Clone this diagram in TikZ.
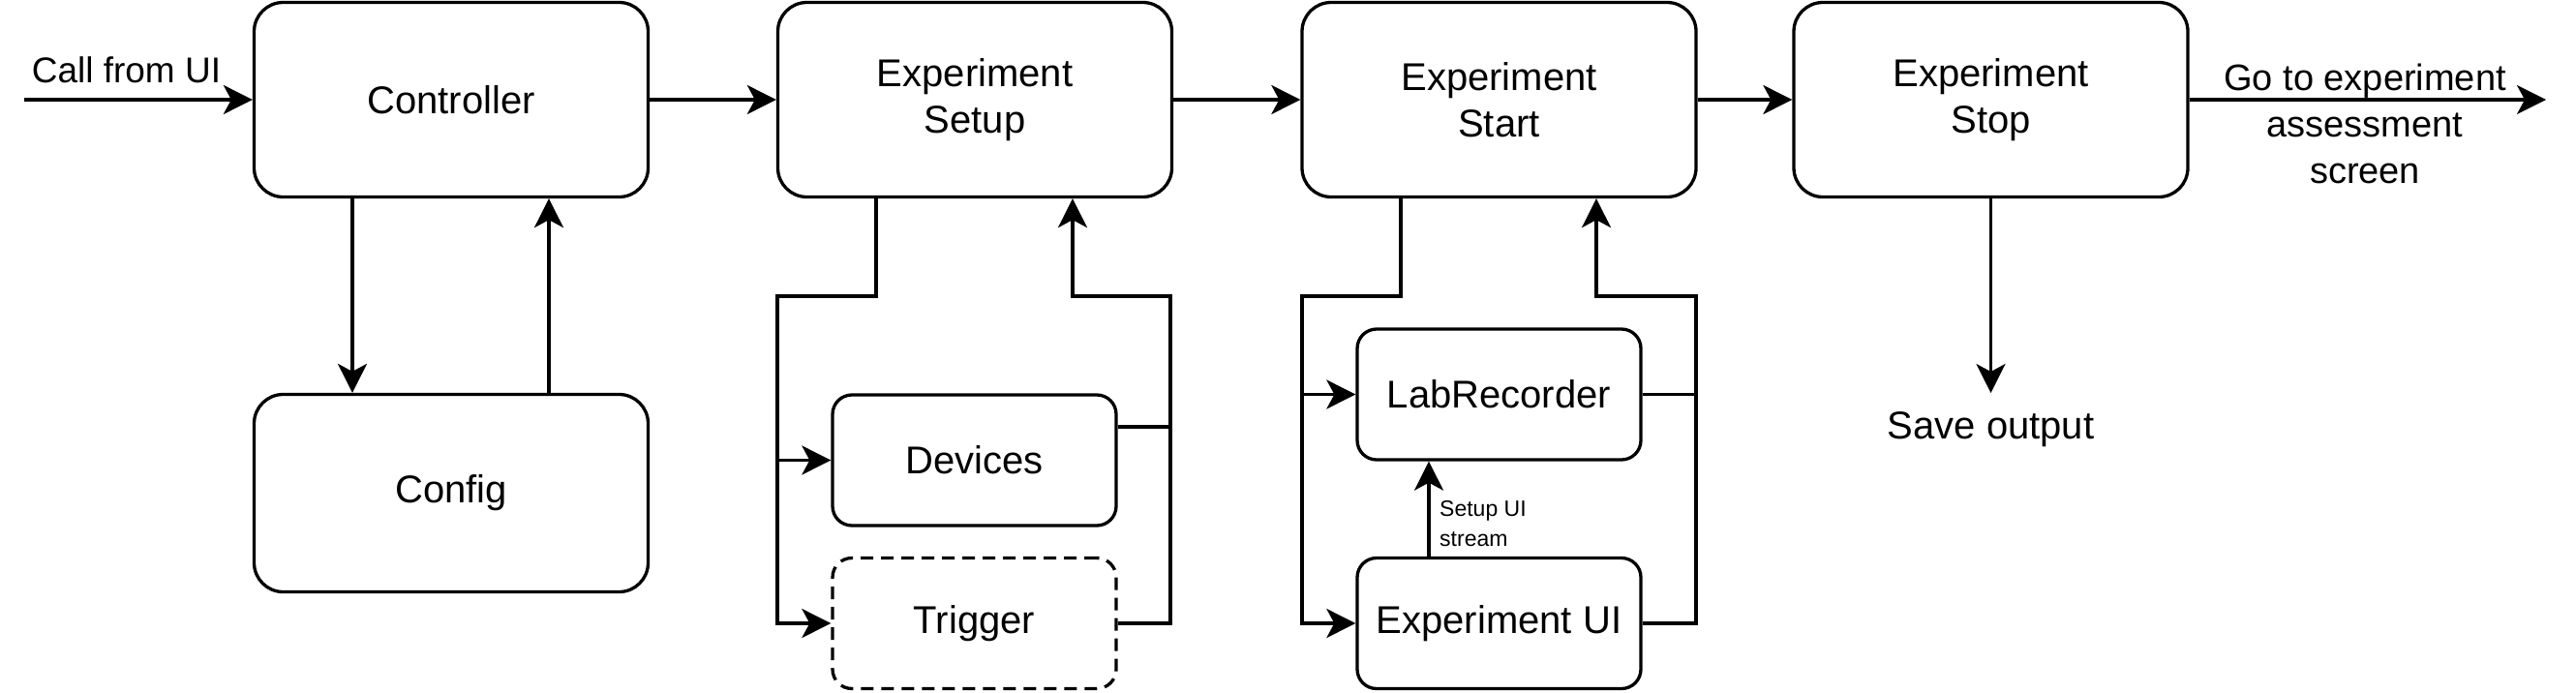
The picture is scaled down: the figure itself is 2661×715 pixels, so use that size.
\documentclass[tikz,border=0pt]{standalone}
\usepackage{fontspec}
\setmainfont{Liberation Sans}
\usetikzlibrary{arrows.meta}
\begin{document}
\begin{tikzpicture}[x=1pt,y=-1pt,
  conn/.style={line width=3.3pt},
  arr/.style={conn, -{Stealth[length=30pt,width=30pt,inset=8pt]}},
  box/.style={draw, line width=3.3pt, rounded corners=30pt, minimum width=407pt, minimum height=201pt, inner sep=0pt, align=center, font=\fontsize{40}{48}\selectfont},
  sbox/.style={draw, line width=3.3pt, rounded corners=20pt, minimum width=293pt, minimum height=135pt, inner sep=0pt, align=center, font=\fontsize{40}{48}\selectfont},
  dashedbox/.style={dash pattern=on 13pt off 8pt},
  lbl/.style={inner sep=0pt, font=\fontsize{40}{48}\selectfont},
  smalllbl/.style={inner sep=0pt, font=\fontsize{23}{31}\selectfont}]
\useasboundingbox (0,0) rectangle (2661,715);
% main boxes
\node[box] (ctrl) at (466,103) {Controller};
\node[box, minimum height=204pt] (config) at (466,509.5) {Config};
\node[box] (setup) at (1007,103) {Experiment\\Setup};
\node[box] (start) at (1548.5,103) {Experiment\\Start};
\node[box] (stop) at (2056.5,103) {Experiment\\Stop};
% sub boxes
\node[sbox] (devices) at (1006.5,475.5) {Devices};
\node[sbox, dashedbox] (trigger) at (1006.5,644) {Trigger};
\node[sbox] (labrec) at (1548.5,407.5) {LabRecorder};
\node[sbox] (expui) at (1548.5,644) {Experiment UI};
% free labels
\node[lbl, anchor=base, font=\fontsize{37}{44}\selectfont] (call) at (130.5,85) {Call from UI};
\node[lbl, align=center, font=\fontsize{38}{48}\selectfont] (goto) at (2443,128) {Go to experiment\\assessment\\screen};
\node[lbl, anchor=base] (save) at (2056.5,453) {Save output};
\node[smalllbl, anchor=west, align=left] (uilbl) at (1487,541) {Setup UI\\stream};
% main flow
\coordinate (callIn) at (25,103);
\coordinate (gotoOut) at (2630,103);
\coordinate (saveIn) at (2056.5,406);
\draw[arr] (callIn) -- (ctrl.west);
\draw[arr] (ctrl.east) -- (setup.west);
\draw[arr] (setup.east) -- (start.west);
\draw[arr] (start.east) -- (stop.west);
\draw[arr] (stop.east) -- (gotoOut);
\draw[arr] (stop.south) -- (saveIn);
\draw[arr] ([xshift=-102pt]ctrl.south) -- ([xshift=-102pt]config.north);
\draw[arr] ([xshift=101pt]config.north) -- ([xshift=101pt]ctrl.south);
% setup branch
\coordinate (s1) at (905,306);
\coordinate (s2) at (803,306);
\coordinate (s3) at (1209,306);
\coordinate (s4) at (1108,306);
\draw[arr] ([xshift=-102pt]setup.south) -- (s1) -- (s2) |- (trigger.west);
\draw[arr] (devices.west -| s2) -- (devices.west);
\draw[arr] (trigger.east) -| (s3) -- (s4) -- ([xshift=101pt]setup.south);
\draw[conn] ([yshift=34.5pt]devices.east) -- ([yshift=34.5pt]devices.east -| s3);
% start branch
\coordinate (t1) at (1447,306);
\coordinate (t2) at (1345,306);
\coordinate (t3) at (1752,306);
\coordinate (t4) at (1649,306);
\draw[arr] ([xshift=-101.5pt]start.south) -- (t1) -- (t2) |- (expui.west);
\draw[arr] (labrec.west -| t2) -- (labrec.west);
\draw[arr] (expui.east) -| (t3) -- (t4) -- ([xshift=100.5pt]start.south);
\draw[conn] (labrec.east) -- (labrec.east -| t3);
\draw[arr] ([xshift=-72.5pt]expui.north) -- ([xshift=-72.5pt]labrec.south);
\end{tikzpicture}
\end{document}
